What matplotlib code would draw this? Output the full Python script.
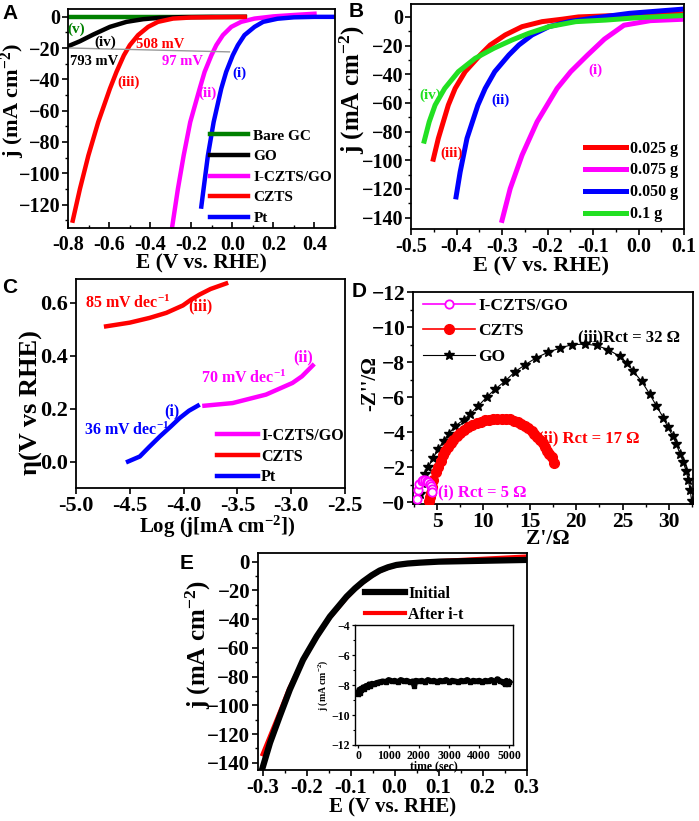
import matplotlib
matplotlib.use('Agg')
import matplotlib.pyplot as plt
from matplotlib.ticker import MultipleLocator, FormatStrFormatter

plt.rcParams['font.family'] = ['Liberation Serif', 'DejaVu Serif']
plt.rcParams['font.weight'] = 'bold'
plt.rcParams['axes.labelweight'] = 'bold'
plt.rcParams['axes.unicode_minus'] = True
plt.rcParams['mathtext.fontset'] = 'custom'
plt.rcParams['mathtext.rm'] = 'Liberation Serif:bold'
plt.rcParams['mathtext.it'] = 'Liberation Serif:bold:italic'
plt.rcParams['mathtext.bf'] = 'Liberation Serif:bold'
plt.rcParams['axes.linewidth'] = 1.3

# ---------------- panel A : LSV of the catalysts ----------------
a_gc_x = [-0.8, -0.5, -0.2, 0.06]
a_gc_y = [0, 0, 0, 0]
a_go_x = [-0.8, -0.742, -0.677, -0.596, -0.515, -0.434, -0.353, -0.25, -0.1, 0.06]
a_go_y = [-18.8, -15.6, -11.3, -6.4, -3.2, -1.5, -0.6, -0.2, 0, 0]
a_icz_x = [-0.292, -0.265, -0.237, -0.205, -0.159, -0.135, -0.102, -0.078, -0.046,
           -0.005, 0.043, 0.108, 0.2, 0.3, 0.4]
a_icz_y = [-133.5, -110, -88.7, -67.3, -45.9, -35.2, -24.6, -18.1, -11.7,
           -6.4, -3.2, -1.1, 0.3, 1.2, 2.0]
a_czts_x = [-0.777, -0.742, -0.701, -0.653, -0.596, -0.564, -0.528, -0.499, -0.459,
            -0.41, -0.362, -0.289, -0.2, -0.05, 0.06]
a_czts_y = [-130.3, -110, -88.7, -67.3, -45.9, -35.2, -24.6, -18.1, -11.7,
            -6.4, -3.2, -1.1, -0.4, -0.2, 0]
a_pt_x = [-0.151, -0.14, -0.119, -0.091, -0.054, -0.03, 0.002, 0.027, 0.059,
          0.108, 0.15, 0.22, 0.3, 0.4, 0.5]
a_pt_y = [-121.3, -110, -88.7, -67.3, -45.9, -35.2, -24.6, -18.1, -11.7,
          -6.4, -3.2, -1.2, -0.3, 0, 0]
a_eta_x = [-0.8, -0.014]
a_eta_y = [-19.9, -22.4]

# ---------------- panel B : loading ----------------
b_025_x = [-0.451, -0.44, -0.418, -0.403, -0.381, -0.348, -0.326, -0.293, -0.256,
           -0.212, -0.168, -0.132, -0.05, 0.1]
b_025_y = [-99.3, -84.8, -61.5, -49.9, -38.2, -26.6, -19.6, -12.6, -6.8,
           -3.3, -1.6, 0, 1.0, 2.2]
b_075_x = [-0.30, -0.282, -0.256, -0.223, -0.179, -0.149, -0.112, -0.075, -0.032,
           0.026, 0.1]
b_075_y = [-142, -119.8, -96.5, -73.2, -49.9, -38.2, -26.6, -15.5, -5.8,
           -2.6, -1.6]
b_050_x = [-0.401, -0.392, -0.377, -0.353, -0.337, -0.316, -0.285, -0.263, -0.234,
           -0.197, -0.153, -0.101, -0.02, 0.1]
b_050_y = [-125.6, -108.2, -84.8, -61.5, -49.9, -38.2, -26.6, -19.6, -12.6,
           -6.8, -3.3, -0.9, 2.5, 5.5]
b_01_x = [-0.471, -0.46, -0.447, -0.426, -0.396, -0.359, -0.318, -0.278, -0.241,
          -0.197, -0.138, -0.072, 0.0, 0.1]
b_01_y = [-86.7, -73.2, -61.5, -49.9, -38.2, -28.9, -21.9, -16.1, -11.4,
          -6.8, -3.3, -2.2, -0.5, 1.0]

# ---------------- panel C : Tafel ----------------
c_czts_x = [-4.72, -4.5, -4.315, -4.16, -4.006, -3.93, -3.852, -3.75, -3.605]
c_czts_y = [0.511, 0.525, 0.543, 0.562, 0.59, 0.612, 0.631, 0.652, 0.673]
c_icz_x = [-3.806, -3.544, -3.234, -2.988, -2.90, -2.80]
c_icz_y = [0.211, 0.221, 0.253, 0.297, 0.322, 0.363]
c_pt_x = [-4.516, -4.407, -4.32, -4.22, -4.12, -4.037, -3.95, -3.868]
c_pt_y = [0.0, 0.019, 0.055, 0.095, 0.132, 0.164, 0.192, 0.211]

# ---------------- panel D : Nyquist ----------------
d_icz_x = [2.81, 2.92, 3.1, 3.35, 3.52, 3.71, 3.9, 4.07, 4.22, 4.32, 4.4, 4.43]
d_icz_y = [-0.21, -0.68, -1.02, -1.2, -1.25, -1.27, -1.24, -1.16, -1.05, -0.91, -0.75, -0.59]
d_czts_x = [4.15, 4.25, 4.3, 4.4, 4.6, 4.89, 5.1, 5.4, 5.68, 5.9, 6.15, 6.45, 6.76, 7.1,
            7.48, 7.9, 8.38, 8.8, 9.27, 9.7, 10.17, 10.6, 11.07, 11.5, 11.97, 12.4,
            12.87, 13.3, 13.76, 14.1, 14.48, 14.85, 15.2, 15.5, 15.81, 16.1, 16.38,
            16.65, 16.88, 17.1, 17.35, 17.6]
d_czts_y = [-0.1, -0.3, -0.55, -0.85, -1.25, -1.72, -2.0, -2.35, -2.7, -2.95, -3.15, -3.38,
            -3.58, -3.77, -3.95, -4.12, -4.3, -4.42, -4.52, -4.6, -4.67, -4.71, -4.75,
            -4.77, -4.78, -4.77, -4.73, -4.65, -4.56, -4.47, -4.36, -4.23, -4.08, -3.92,
            -3.74, -3.56, -3.36, -3.16, -2.95, -2.77, -2.57, -2.23]
d_go_x = [3.2, 3.4, 3.7, 4.05, 4.6, 5.15, 5.7, 6.25, 6.95, 7.85, 8.6, 9.45, 10.35, 11.25,
          12.3, 13.4, 14.5, 15.7, 17.0, 18.25, 19.5, 20.95, 22.2, 23.45, 24.7, 25.5,
          26.15, 27.05, 27.95, 28.65, 29.4, 29.9, 30.4, 30.8, 31.2, 31.55, 31.85, 32.1,
          32.3, 32.45]
d_go_y = [-0.5, -1.1, -1.6, -2.0, -2.55, -3.05, -3.5, -3.9, -4.35, -4.7, -5.05, -5.5, -6.0,
          -6.45, -6.9, -7.45, -7.85, -8.25, -8.57, -8.8, -8.99, -9.03, -8.95, -8.71,
          -8.33, -7.95, -7.48, -6.91, -6.16, -5.5, -4.83, -4.27, -3.8, -3.32, -2.76,
          -2.28, -1.81, -1.25, -0.68, -0.09]
d_ticks = [0, -2, -4, -6, -8, -10, -12]
d_ticklabels = ['\u22120', '\u22122', '\u22124', '\u22126', '\u22128', '\u221210', '\u221212']

# ---------------- panel E : stability ----------------
e_init_x = [-0.3, -0.283, -0.261, -0.238, -0.208, -0.177, -0.147, -0.109, -0.09, -0.072,
            -0.052, -0.034, -0.015, 0.004, 0.03, 0.057, 0.1, 0.15, 0.3]
e_init_y = [-143.5, -126, -107.6, -89, -68.3, -52, -38.2, -24.3, -18.6, -13.9,
            -9.5, -6.2, -3.9, -2.3, -1.3, -0.7, 0, 0.3, 1.2]
e_after_x = [-0.3, -0.28, -0.26, -0.24, -0.21, -0.18, -0.15, -0.11, -0.09, -0.072,
             -0.052, -0.034, -0.015, 0.004, 0.03, 0.06, 0.1, 0.15, 0.3]
e_after_y = [-134, -119, -104, -88.5, -70, -54, -40, -25.5, -19.2, -14.5,
             -10, -6.6, -4.3, -2.6, -1.3, -0.4, 0.4, 1.2, 3.6]
it_t = [0, 25, 50, 75, 100,
        150, 200, 250, 300, 350, 400, 450, 500,
        600, 700, 800, 900, 1000, 1100, 1200, 1300, 1400, 1500, 1600, 1700, 1800,
        1850, 1900,
        2000, 2100, 2200, 2300, 2400, 2500, 2600, 2700, 2800, 2900,
        3000, 3100, 3200, 3300, 3400, 3500, 3600, 3700, 3800, 3900,
        4000, 4100, 4200, 4300, 4400, 4500, 4600, 4700, 4800,
        4850, 4900, 4950, 5000]
it_j = [-8.6, -8.3, -8.5, -8.25, -8.35,
        -8.15, -8.25, -8.05, -8.15, -7.95, -8.05, -7.9, -7.95,
        -7.85, -7.8, -7.75, -7.8, -7.65, -7.75, -7.7, -7.8, -7.65, -7.75, -7.7, -7.8, -7.75,
        -8.05, -7.7,
        -7.75, -7.7, -7.8, -7.65, -7.75, -7.7, -7.8, -7.7, -7.75, -7.65,
        -7.8, -7.7, -7.75, -7.8, -7.7, -7.75, -7.65, -7.8, -7.7, -7.75,
        -7.7, -7.8, -7.7, -7.75, -7.65, -7.8, -7.6, -7.75, -7.8,
        -7.95, -7.7, -7.9, -7.8]

RED = '#ff0000'
MAG = '#ff00ff'
BLUE = '#0000ff'
GREEN = '#008000'
LGREEN = '#22e022'


def style(ax, fs):
    ax.tick_params(which='major', direction='out', length=4, width=1.2, labelsize=fs, pad=1.5)
    ax.tick_params(which='minor', direction='out', length=2.5, width=1.0)


def put(ax, s, x, y, c, fs=11):
    ax.text(x, y, s, color=c, fontsize=fs, ha='center', va='center', fontweight='bold')


def legend(ax, x, y, fs, hl, ls, tp=0.3, **kw):
    return ax.legend(loc='upper left', bbox_to_anchor=(x, y), frameon=False, fontsize=fs,
                     handlelength=hl, handletextpad=tp, labelspacing=ls, borderpad=0,
                     borderaxespad=0, **kw)


fig = plt.figure(figsize=(6.99, 8.21), dpi=100)

# ---- A ----
axA = fig.add_axes([0.0973, 0.7223, 0.382, 0.2667])
axA.plot(a_gc_x, a_gc_y, color=GREEN, lw=3.2, label='Bare GC')
axA.plot(a_go_x, a_go_y, color='black', lw=3.2, label='GO')
axA.plot(a_icz_x, a_icz_y, color=MAG, lw=3.2, label='I-CZTS/GO')
axA.plot(a_czts_x, a_czts_y, color=RED, lw=3.2, label='CZTS')
axA.plot(a_pt_x, a_pt_y, color=BLUE, lw=3.2, label='Pt')
axA.plot(a_eta_x, a_eta_y, color='#999999', lw=1.0)
axA.set_xlim(-0.8, 0.5)
axA.set_ylim(-135, 5)
axA.xaxis.set_major_locator(MultipleLocator(0.2))
axA.xaxis.set_minor_locator(MultipleLocator(0.1))
axA.xaxis.set_major_formatter(FormatStrFormatter('%.1f'))
axA.yaxis.set_major_locator(MultipleLocator(20))
axA.yaxis.set_minor_locator(MultipleLocator(10))
style(axA, 14.5)
axA.tick_params(axis='x', which='both', direction='in', pad=5)
axA.set_xlabel('E (V vs. RHE)', fontsize=15.5)
axA.set_ylabel('j (mA cm$^{-2}$)', fontsize=16)
axA.xaxis.set_label_coords(0.5, -0.118)
axA.yaxis.set_label_coords(-0.155, 0.58)
put(axA, '(v)', -0.758, -8.0, GREEN)
put(axA, '(iv)', -0.617, -16, 'black')
put(axA, '508 mV', -0.35, -17.6, RED, 10.5)
put(axA, '793 mV', -0.673, -28.8, 'black', 10.5)
put(axA, '(iii)', -0.507, -41.7, RED)
put(axA, '97 mV', -0.244, -28.8, MAG, 10.5)
put(axA, '(ii)', -0.119, -49, MAG)
put(axA, '(i)', 0.035, -36.3, BLUE)
legend(axA, 0.532, 0.452, 11, 2.5, 0.45, 0.33)

# ---- B ----
axB = fig.add_axes([0.588, 0.7211, 0.3906, 0.274])
axB.plot(b_025_x, b_025_y, color=RED, lw=3.6, label='0.025 g')
axB.plot(b_075_x, b_075_y, color=MAG, lw=3.6, label='0.075 g')
axB.plot(b_050_x, b_050_y, color=BLUE, lw=3.6, label='0.050 g')
axB.plot(b_01_x, b_01_y, color=LGREEN, lw=3.6, label='0.1 g')
axB.set_xlim(-0.5, 0.1)
axB.set_ylim(-148, 9)
axB.xaxis.set_major_locator(MultipleLocator(0.1))
axB.xaxis.set_minor_locator(MultipleLocator(0.05))
axB.xaxis.set_major_formatter(FormatStrFormatter('%.1f'))
axB.yaxis.set_major_locator(MultipleLocator(20))
axB.yaxis.set_minor_locator(MultipleLocator(10))
style(axB, 14.5)
axB.set_xlabel('E (V vs. RHE)', fontsize=16)
axB.set_ylabel('j (mA cm$^{-2}$)', fontsize=18)
axB.xaxis.set_label_coords(0.476, -0.121)
axB.yaxis.set_label_coords(-0.162, 0.62)
put(axB, '(i)', -0.094, -37, MAG)
put(axB, '(ii)', -0.304, -58, BLUE)
put(axB, '(iii)', -0.41, -95.3, RED)
put(axB, '(iv)', -0.458, -54.5, LGREEN)
legend(axB, 0.637, 0.393, 11.5, 2.6, 0.37, 0.2)

# ---- C ----
axC = fig.add_axes([0.1087, 0.4056, 0.3848, 0.2546])
axC.plot(c_icz_x, c_icz_y, color=MAG, lw=3.2, label='I-CZTS/GO')
axC.plot(c_czts_x, c_czts_y, color=RED, lw=3.2, label='CZTS')
axC.plot(c_pt_x, c_pt_y, color=BLUE, lw=3.2, label='Pt')
axC.set_xlim(-5.0, -2.5)
axC.set_ylim(-0.1, 0.69)
axC.xaxis.set_major_locator(MultipleLocator(0.5))
axC.xaxis.set_major_formatter(FormatStrFormatter('%.1f'))
axC.yaxis.set_major_locator(MultipleLocator(0.2))
axC.yaxis.set_major_formatter(FormatStrFormatter('%.1f'))
style(axC, 16)
axC.set_xlabel('Log (j[mA cm$^{-2}$])', fontsize=15)
axC.set_ylabel('η(V vs RHE)', fontsize=19)
axC.xaxis.set_label_coords(0.524, -0.124)
axC.yaxis.set_label_coords(-0.123, 0.41)
put(axC, '85 mV dec$^{-1}$', -4.523, 0.597, RED, 11.5)
put(axC, '(iii)', -3.84, 0.587, RED, 11.5)
put(axC, '(ii)', -2.889, 0.393, MAG, 11.5)
put(axC, '70 mV dec$^{-1}$', -3.44, 0.316, MAG, 11.5)
put(axC, '(i)', -4.111, 0.188, BLUE, 11.5)
put(axC, '36 mV dec$^{-1}$', -4.53, 0.117, BLUE, 11.5)
legend(axC, 0.524, 0.289, 11.5, 2.56, 0.31, 0.2)

# ---- D ----
axD = fig.add_axes([0.5908, 0.3861, 0.4006, 0.2582])
axD.plot(d_icz_x, d_icz_y, color=MAG, lw=1.2, marker='o', ms=6, mfc='white', mec=MAG,
         mew=1.3, label='I-CZTS/GO', zorder=4)
axD.plot(d_czts_x, d_czts_y, color=RED, lw=1.2, marker='o', ms=7, mfc=RED, mec=RED,
         label='CZTS', zorder=3)
axD.plot(d_go_x, d_go_y, color='black', lw=0.8, marker='*', ms=7, mfc='black', mec='black',
         label='GO', zorder=2)
axD.set_xlim(2.4, 32.6)
axD.set_ylim(0.1, -12)
axD.xaxis.set_major_locator(MultipleLocator(5))
axD.xaxis.set_minor_locator(MultipleLocator(2.5))
axD.set_yticks(d_ticks)
axD.set_yticklabels(d_ticklabels)
axD.yaxis.set_minor_locator(MultipleLocator(1))
style(axD, 15.5)
axD.set_xlabel("Z'/Ω", fontsize=15.5)
axD.set_ylabel("-Z''/Ω", fontsize=15)
axD.xaxis.set_label_coords(0.48, -0.12)
axD.yaxis.set_label_coords(-0.118, 0.57)
axD.text(20.2, -9.42, '(iii)Rct = 32 Ω', color='black', fontsize=12, ha='left', va='center')
axD.text(15.9, -3.65, '(ii) Rct = 17 Ω', color=RED, fontsize=12, ha='left', va='center')
axD.text(5.14, -0.58, '(i) Rct = 5 Ω', color=MAG, fontsize=12, ha='left', va='center')
legend(axD, 0.036, 0.974, 12.5, 3.0, 0.54, 0.2, numpoints=1)

# ---- E ----
axE = fig.add_axes([0.3687, 0.0621, 0.3848, 0.2643])
axE.plot(e_after_x, e_after_y, color=RED, lw=3.0, label='After i-t', zorder=2)
axE.plot(e_init_x, e_init_y, color='black', lw=4.5, label='Initial', zorder=3)
axE.set_xlim(-0.311, 0.3)
axE.set_ylim(-145, 6)
axE.xaxis.set_major_locator(MultipleLocator(0.1))
axE.xaxis.set_minor_locator(MultipleLocator(0.05))
axE.xaxis.set_major_formatter(FormatStrFormatter('%.1f'))
axE.yaxis.set_major_locator(MultipleLocator(20))
axE.yaxis.set_minor_locator(MultipleLocator(10))
style(axE, 15)
axE.set_xlabel('E (V vs. RHE)', fontsize=15)
axE.set_ylabel('j (mA cm$^{-2}$)', fontsize=18)
axE.xaxis.set_label_coords(0.503, -0.125)
axE.yaxis.set_label_coords(-0.168, 0.58)
h, l = axE.get_legend_handles_labels()
axE.legend(h[::-1], l[::-1], loc='upper left', bbox_to_anchor=(0.40, 0.85), frameon=False,
           fontsize=11.5, handlelength=2.5, handletextpad=0.2, labelspacing=0.31,
           borderpad=0, borderaxespad=0)

axI = fig.add_axes([0.508, 0.0926, 0.2256, 0.146])
axI.plot(it_t, it_j, color='black', lw=4.0, marker='s', ms=3)
axI.set_xlim(-110, 5110)
axI.set_ylim(-12, -4)
axI.xaxis.set_major_locator(MultipleLocator(1000))
axI.yaxis.set_major_locator(MultipleLocator(2))
axI.yaxis.set_minor_locator(MultipleLocator(1))
axI.tick_params(which='major', direction='out', length=2.5, width=0.9, labelsize=8.5, pad=1)
axI.tick_params(which='minor', direction='out', length=1.5, width=0.8)
for s in axI.spines.values():
    s.set_linewidth(1.0)
axI.set_xlabel('time (sec)', fontsize=8.5, labelpad=-1)
axI.set_ylabel('j (mA cm$^{-2}$)', fontsize=7, labelpad=1)

# panel letters
for lt, x, y in [('A', 0.004, 0.995), ('B', 0.499, 0.997), ('C', 0.003, 0.661),
                 ('D', 0.503, 0.656), ('E', 0.257, 0.325)]:
    fig.text(x, y, lt, fontsize=15, fontweight='bold', family='Liberation Sans',
             ha='left', va='top')

fig.savefig('out.png', dpi=100)
